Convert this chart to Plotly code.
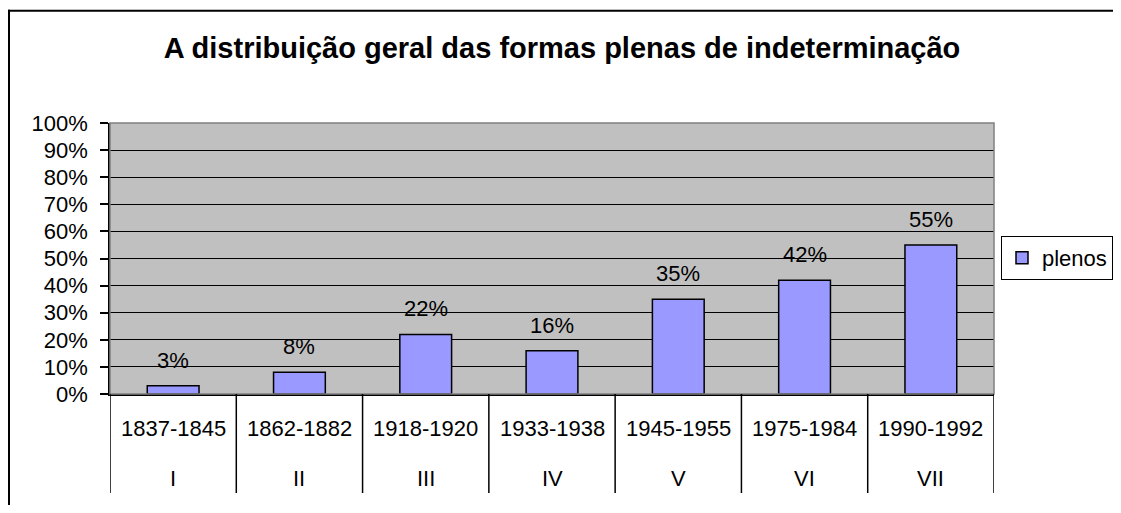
import plotly.graph_objects as go

periods = ["1837-1845", "1862-1882", "1918-1920", "1933-1938", "1945-1955", "1975-1984", "1990-1992"]
romans = ["I", "II", "III", "IV", "V", "VI", "VII"]
plenos = [0.03, 0.08, 0.22, 0.16, 0.35, 0.42, 0.55]
label_texts = ["3%", "8%", "22%", "16%", "35%", "42%", "55%"]
y_ticks = [i / 10 for i in range(11)]

FONT = "Liberation Sans, Arial, sans-serif"
OFF = 8  # default page body margin
VW, VH = 1121, 513
W, H = VW - 2 * OFF, VH - 2 * OFF  # fit inside the window without scrollbars
# plot area in viewport pixels: x 110..994, y 123..394
L, T = 110 - OFF, 123 - OFF
R, B = W - (994 - OFF), H - (394 - OFF)
pw, ph = W - L - R, H - T - B


def px_x(vx):
    return (vx - OFF - L) / pw


def px_y(vy):
    return (T + ph - (vy - OFF)) / ph


fig = go.Figure()
fig.add_trace(go.Bar(
    x=periods, y=plenos, name="plenos",
    marker=dict(color="#9999FF", line=dict(color="black", width=1.5)),
    showlegend=True,
))

annotations = []
for p, v, t in zip(periods, plenos, label_texts):
    annotations.append(dict(x=p, y=v, xref="x", yref="y", text=t, showarrow=False,
                            yanchor="bottom", yshift=11, font=dict(size=22, color="black", family=FONT)))
for p, r in zip(periods, romans):
    annotations.append(dict(x=p, y=0, xref="x", yref="paper", text=p, showarrow=False,
                            yanchor="middle", yshift=-34, font=dict(size=22, color="black", family=FONT)))
    annotations.append(dict(x=p, y=0, xref="x", yref="paper", text=r, showarrow=False,
                            yanchor="middle", yshift=-84, font=dict(size=22, color="black", family=FONT)))

shapes = []
shapes.append(dict(type="rect", xref="paper", yref="paper", x0=0, x1=1, y0=0, y1=1,
                   line=dict(color="#808080", width=1.5), layer="above"))
n = len(periods)
for i in range(n + 1):
    shapes.append(dict(type="line", xref="x", yref="paper", x0=i - 0.5, x1=i - 0.5,
                       y0=0, y1=px_y(493), line=dict(color="black", width=1.5)))
# outer chart frame (only top and left edges are inside the window)
shapes.append(dict(type="line", xref="paper", yref="paper",
                   x0=px_x(8), x1=px_x(VW), y0=px_y(10.7), y1=px_y(10.7),
                   line=dict(color="black", width=2), layer="below"))
shapes.append(dict(type="line", xref="paper", yref="paper",
                   x0=px_x(9), x1=px_x(9), y0=px_y(9.7), y1=px_y(VH),
                   line=dict(color="black", width=2), layer="below"))

fig.update_layout(
    template="none",
    width=W, height=H,
    margin=dict(l=L, r=R, t=T, b=B, pad=0, autoexpand=False),
    paper_bgcolor="white",
    plot_bgcolor="#C0C0C0",
    font=dict(family=FONT, size=22, color="black"),
    title=dict(text="<b>A distribuição geral das formas plenas de indeterminação</b>",
               x=px_x(562), xref="paper", xanchor="center",
               y=1 - (48 - OFF) / H, yref="container", yanchor="middle",
               font=dict(size=29, family=FONT, color="black")),
    bargap=0.59,
    showlegend=True,
    legend=dict(x=px_x(1001), xanchor="left", y=px_y(236), yanchor="top",
                bgcolor="white", bordercolor="black", borderwidth=1,
                font=dict(size=22, family=FONT, color="black")),
    annotations=annotations,
    shapes=shapes,
)
fig.update_xaxes(type="category", showticklabels=False, ticks="", showline=True, automargin=False,
                 linecolor="black", linewidth=1.5, showgrid=False, range=[-0.5, n - 0.5])
fig.update_yaxes(range=[0, 1], tickvals=y_ticks, tickformat=".0%", ticks="outside", ticklen=8,
                 tickcolor="black", tickwidth=1.5, showline=True, linecolor="black", linewidth=1.5,
                 showgrid=True, gridcolor="black", gridwidth=1, zeroline=False, automargin=False,
                 ticklabelstandoff=8,
                 tickfont=dict(size=22, family=FONT, color="black"))

fig.write_html("out.html")
